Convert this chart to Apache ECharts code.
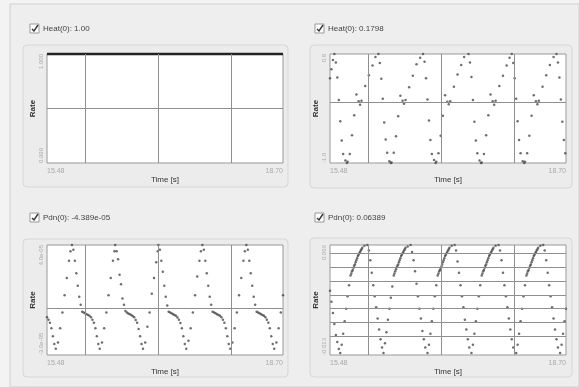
<!DOCTYPE html>
<html>
<head>
<meta charset="utf-8">
<script src="https://cdn.jsdelivr.net/npm/echarts@6/dist/echarts.min.js"></script>
<style>
html, body { margin: 0; padding: 0; background: #f3f3f3; }
#chart { width: 579px; height: 387px; }
</style>
</head>
<body>
<div id="chart"></div>
<script>
// time axis shared by all four plots
const xMin = 15.48;
const xMax = 18.70;
const xTickLabels = ['15.48', '18.70'];
const timeGridLines = [16, 17, 18];

const titles = ['Heat(0): 1.00', 'Heat(0): 0.1798', 'Pdn(0): -4.389e-05', 'Pdn(0): 0.06389'];
const yMins = [0.999, -1.0, -3.0, -0.0134];
const yMaxs = [1.0, 0.8, 4.0, 0.066];
const yTickLabels = [
	['0.999', '1.000'],
	['-1.0', '0.8'],
	['-3.0e-05', '4.0e-05'],
	['-0.013', '0.066'],
];
const valueGridLines = [
	[0.9995],
	[0],
	[0],
	[0, 0.01, 0.02, 0.03, 0.04, 0.05, 0.06],
];

// plot 1: flat at the top
const heatA = [[15.48, 1.0], [16.2, 1.0], [17.1, 1.0], [18.70, 1.0]];

// plot 2
const heatB = [
	[15.48, 0.40], [15.50, 0.55], [15.52, 0.70],
	[15.54, 0.80], [15.56, 0.66], [15.58, 0.41], [15.60, 0.04], [15.62, -0.31], [15.64, -0.63], [15.66, -0.85], [15.69, -0.96], [15.71, -1.00], [15.72, -0.98], [15.75, -0.85], [15.78, -0.54], [15.81, -0.21], [15.84, 0.13], [15.87, 0.02], [15.89, -0.04], [15.91, 0.03], [15.96, 0.27], [16.01, 0.45], [16.06, 0.61], [16.10, 0.75],
	[16.14, 0.80], [16.16, 0.65], [16.18, 0.39], [16.20, 0.06], [16.22, -0.33], [16.24, -0.61], [16.26, -0.83], [16.29, -0.97], [16.31, -1.00], [16.32, -0.99], [16.35, -0.83], [16.38, -0.56], [16.41, -0.23], [16.44, 0.11], [16.47, 0.03], [16.49, -0.02], [16.51, 0.04], [16.56, 0.25], [16.61, 0.44], [16.66, 0.63], [16.71, 0.74],
	[16.75, 0.80], [16.77, 0.67], [16.79, 0.40], [16.81, 0.05], [16.83, -0.30], [16.85, -0.62], [16.87, -0.85], [16.90, -0.95], [16.92, -1.00], [16.93, -0.98], [16.96, -0.84], [16.99, -0.55], [17.02, -0.22], [17.05, 0.12], [17.08, 0.01], [17.10, -0.03], [17.12, 0.02], [17.17, 0.26], [17.22, 0.46], [17.27, 0.62], [17.31, 0.75],
	[17.37, 0.80], [17.39, 0.66], [17.41, 0.42], [17.43, 0.04], [17.45, -0.32], [17.47, -0.63], [17.49, -0.84], [17.52, -0.96], [17.54, -1.00], [17.55, -0.99], [17.58, -0.85], [17.61, -0.54], [17.64, -0.21], [17.67, 0.13], [17.70, 0.02], [17.72, -0.04], [17.74, 0.03], [17.79, 0.27], [17.84, 0.44], [17.89, 0.61], [17.93, 0.74],
	[17.96, 0.80], [17.98, 0.65], [18.00, 0.40], [18.02, 0.06], [18.04, -0.31], [18.06, -0.62], [18.08, -0.84], [18.11, -0.97], [18.13, -1.00], [18.14, -0.98], [18.17, -0.84], [18.20, -0.55], [18.23, -0.22], [18.26, 0.12], [18.29, 0.02], [18.31, -0.03], [18.33, 0.03], [18.38, 0.26], [18.43, 0.45], [18.48, 0.62], [18.53, 0.75],
	[18.57, 0.80], [18.59, 0.66], [18.61, 0.41], [18.63, 0.05], [18.65, -0.32], [18.67, -0.62], [18.69, -0.84],
];

// plot 3 (values in 1e-5)
const pdnA = [
	[15.48, -0.6], [15.50, -0.75], [15.52, -0.95], [15.54, -1.3], [15.56, -1.8], [15.58, -2.3], [15.60, -2.6], [15.63, -2.2], [15.66, -1.3], [15.69, -0.3], [15.72, 0.8], [15.75, 1.9], [15.78, 3.0], [15.80, 3.6],
	[15.82, 4.0], [15.84, 3.7], [15.86, 3.0], [15.88, 2.2], [15.90, 1.4], [15.92, 0.7], [15.94, 0.2], [15.96, -0.25], [15.98, -0.3], [16.00, -0.35], [16.02, -0.4], [16.04, -0.45], [16.06, -0.5], [16.08, -0.6], [16.10, -0.75], [16.12, -0.95], [16.14, -1.3], [16.16, -1.8], [16.18, -2.3], [16.20, -2.6], [16.23, -2.2], [16.26, -1.3], [16.29, -0.3], [16.32, 0.8], [16.35, 1.9], [16.38, 3.0], [16.40, 3.6],
	[16.41, 4.0], [16.43, 3.6], [16.45, 3.1], [16.47, 2.1], [16.49, 1.5], [16.51, 0.6], [16.53, 0.2], [16.55, -0.2], [16.57, -0.3], [16.59, -0.36], [16.61, -0.4], [16.63, -0.46], [16.65, -0.52], [16.67, -0.6], [16.69, -0.78], [16.71, -0.95], [16.73, -1.35], [16.75, -1.8], [16.77, -2.3], [16.79, -2.6], [16.82, -2.2], [16.85, -1.2], [16.88, -0.3], [16.91, 0.9], [16.94, 1.9], [16.97, 2.9], [16.99, 3.6],
	[17.00, 4.0], [17.02, 3.7], [17.04, 3.0], [17.06, 2.3], [17.08, 1.4], [17.10, 0.7], [17.12, 0.15], [17.14, -0.25], [17.16, -0.3], [17.18, -0.34], [17.20, -0.4], [17.22, -0.45], [17.24, -0.5], [17.26, -0.62], [17.28, -0.75], [17.30, -0.97], [17.32, -1.3], [17.34, -1.8], [17.36, -2.3], [17.38, -2.6], [17.41, -2.1], [17.44, -1.3], [17.47, -0.3], [17.50, 0.8], [17.53, 2.0], [17.56, 3.0], [17.58, 3.6],
	[17.60, 4.0], [17.62, 3.7], [17.64, 3.0], [17.66, 2.2], [17.68, 1.4], [17.70, 0.7], [17.72, 0.2], [17.74, -0.25], [17.76, -0.3], [17.78, -0.35], [17.80, -0.4], [17.82, -0.45], [17.84, -0.5], [17.86, -0.6], [17.88, -0.75], [17.90, -0.95], [17.92, -1.3], [17.94, -1.8], [17.96, -2.3], [17.98, -2.6], [18.01, -2.2], [18.04, -1.3], [18.07, -0.3], [18.10, 0.8], [18.13, 1.9], [18.16, 3.0], [18.18, 3.6],
	[18.20, 4.0], [18.22, 3.7], [18.24, 3.0], [18.26, 2.2], [18.28, 1.4], [18.30, 0.7], [18.32, 0.2], [18.34, -0.25], [18.36, -0.3], [18.38, -0.35], [18.40, -0.4], [18.42, -0.45], [18.44, -0.5], [18.46, -0.6], [18.48, -0.75], [18.50, -0.95], [18.52, -1.3], [18.54, -1.8], [18.56, -2.3], [18.58, -2.6], [18.61, -2.2], [18.64, -1.3], [18.67, -0.3], [18.70, 0.8],
];

// plot 4
const pdnB = [
	[15.48, 0.033], [15.50, 0.025], [15.52, 0.017], [15.54, 0.009], [15.56, 0.001], [15.58, -0.004], [15.60, -0.009],
	[15.62, -0.012], [15.64, -0.006], [15.66, 0.002], [15.68, 0.011], [15.70, 0.020], [15.72, 0.029], [15.74, 0.037], [15.76, 0.044], [15.77, 0.0455], [15.78, 0.047], [15.79, 0.048], [15.80, 0.0495], [15.81, 0.051], [15.82, 0.052], [15.83, 0.0535], [15.84, 0.055], [15.85, 0.0565], [15.86, 0.058], [15.87, 0.059], [15.88, 0.060], [15.89, 0.061], [15.90, 0.062], [15.91, 0.063], [15.92, 0.064], [15.95, 0.0655], [15.99, 0.066], [16.01, 0.062], [16.03, 0.055], [16.05, 0.046], [16.07, 0.037], [16.09, 0.029], [16.11, 0.021], [16.13, 0.013], [16.15, 0.005], [16.17, -0.002], [16.19, -0.008],
	[16.21, -0.012], [16.23, -0.005], [16.25, 0.003], [16.27, 0.012], [16.29, 0.020], [16.31, 0.028], [16.33, 0.036], [16.35, 0.044], [16.36, 0.0455], [16.37, 0.047], [16.38, 0.0485], [16.39, 0.050], [16.40, 0.051], [16.41, 0.052], [16.42, 0.0535], [16.43, 0.055], [16.44, 0.0565], [16.45, 0.058], [16.46, 0.059], [16.47, 0.060], [16.48, 0.061], [16.49, 0.062], [16.50, 0.063], [16.51, 0.064], [16.54, 0.065], [16.58, 0.066], [16.60, 0.061], [16.62, 0.055], [16.64, 0.047], [16.66, 0.038], [16.68, 0.029], [16.70, 0.020], [16.72, 0.013], [16.74, 0.004], [16.76, -0.002], [16.78, -0.008],
	[16.81, -0.012], [16.83, -0.006], [16.85, 0.002], [16.87, 0.011], [16.89, 0.020], [16.91, 0.029], [16.93, 0.037], [16.95, 0.044], [16.96, 0.0455], [16.97, 0.047], [16.98, 0.048], [16.99, 0.049], [17.00, 0.0505], [17.01, 0.052], [17.02, 0.0535], [17.03, 0.055], [17.04, 0.0565], [17.05, 0.058], [17.06, 0.059], [17.07, 0.060], [17.08, 0.061], [17.09, 0.062], [17.10, 0.063], [17.11, 0.064], [17.14, 0.0655], [17.18, 0.066], [17.20, 0.062], [17.22, 0.054], [17.24, 0.046], [17.26, 0.037], [17.28, 0.029], [17.30, 0.021], [17.32, 0.012], [17.34, 0.005], [17.36, -0.002], [17.38, -0.008],
	[17.41, -0.012], [17.43, -0.006], [17.45, 0.002], [17.47, 0.011], [17.49, 0.020], [17.51, 0.029], [17.53, 0.037], [17.55, 0.044], [17.56, 0.0455], [17.57, 0.047], [17.58, 0.048], [17.59, 0.0495], [17.60, 0.051], [17.61, 0.052], [17.62, 0.0535], [17.63, 0.055], [17.64, 0.0565], [17.65, 0.058], [17.66, 0.059], [17.67, 0.060], [17.68, 0.061], [17.69, 0.062], [17.70, 0.063], [17.71, 0.064], [17.74, 0.0655], [17.78, 0.066], [17.80, 0.062], [17.82, 0.055], [17.84, 0.046], [17.86, 0.037], [17.88, 0.029], [17.90, 0.021], [17.92, 0.013], [17.94, 0.005], [17.96, -0.002], [17.98, -0.008],
	[18.02, -0.012], [18.04, -0.006], [18.06, 0.002], [18.08, 0.011], [18.10, 0.020], [18.12, 0.029], [18.14, 0.037], [18.16, 0.044], [18.17, 0.0455], [18.18, 0.047], [18.19, 0.048], [18.20, 0.0495], [18.21, 0.051], [18.22, 0.052], [18.23, 0.0535], [18.24, 0.055], [18.25, 0.0565], [18.26, 0.058], [18.27, 0.059], [18.28, 0.060], [18.29, 0.061], [18.30, 0.062], [18.31, 0.063], [18.32, 0.064], [18.35, 0.0655], [18.39, 0.066], [18.41, 0.062], [18.43, 0.055], [18.45, 0.046], [18.47, 0.037], [18.49, 0.029], [18.51, 0.021], [18.53, 0.013], [18.55, 0.005], [18.57, -0.002], [18.59, -0.008],
	[18.62, -0.012], [18.64, -0.006], [18.66, 0.002], [18.68, 0.011], [18.70, 0.020],
];

const chart = echarts.init(document.getElementById('chart'), null, {renderer: 'canvas'});

const grids = [
	{left: 47, top: 54, width: 236, height: 109},
	{left: 330, top: 54, width: 236, height: 109},
	{left: 47, top: 245, width: 236, height: 110},
	{left: 330, top: 245, width: 236, height: 110},
];
const frames = [
	{x: 23, y: 45, width: 265, height: 142},
	{x: 310, y: 45, width: 262, height: 143},
	{x: 23, y: 239, width: 265, height: 138},
	{x: 310, y: 238, width: 262, height: 139},
];
const titlePos = [[30, 24], [315, 24], [30, 213], [315, 213]];

const font = 'Liberation Sans, DejaVu Sans, sans-serif';

function checkbox([x, y], text) {
	return [
		{type: 'rect', shape: {x, y, width: 9, height: 9}, style: {fill: '#fff', stroke: '#999', lineWidth: 1}, z: 5},
		{type: 'polyline', shape: {points: [[x + 2, y + 5], [x + 4, y + 7], [x + 8, y + 1]]}, style: {fill: null, stroke: '#333', lineWidth: 1.4}, z: 6},
		{type: 'text', x: x + 13, y: y + 5, style: {text, fontSize: 8, fontFamily: font, fill: '#444', verticalAlign: 'middle'}, z: 6},
	];
}

const graphic = [
	{type: 'rect', shape: {x: 10, y: 4, width: 569, height: 383}, style: {fill: '#eeeeee', stroke: '#cfcfcf', lineWidth: 1}, z: -10},
	...frames.map(f => ({type: 'rect', shape: {...f, r: 4}, style: {fill: '#ececec', stroke: '#d6d6d6', lineWidth: 1}, z: -5})),
	...titles.flatMap((t, i) => checkbox(titlePos[i], t)),
];

const seriesData = [heatA, heatB, pdnA, pdnB];

// empty scatter per plot that only carries the grid lines
const gridLineSeries = grids.map((g, i) => ({
	type: 'scatter',
	xAxisIndex: i,
	yAxisIndex: i,
	data: [],
	silent: true,
	markLine: {
		silent: true,
		symbol: 'none',
		precision: 6,
		label: {show: false},
		lineStyle: {color: '#8f8f8f', type: 'solid', width: 1},
		data: [
			...timeGridLines.map(t => ({xAxis: t})),
			...valueGridLines[i].map(v => ({yAxis: v})),
		],
	},
}));

const option = {
	animation: false,
	backgroundColor: '#f3f3f3',
	graphic,
	grid: grids.map(g => ({...g, show: true, backgroundColor: '#fff', borderColor: '#999', borderWidth: 1})),
	xAxis: grids.map((g, i) => ({
		gridIndex: i,
		type: 'value',
		min: xMin,
		max: xMax,
		name: 'Time [s]',
		nameLocation: 'middle',
		nameGap: 10,
		nameTextStyle: {fontSize: 8, color: '#333', fontFamily: font},
		axisLine: {show: false},
		axisTick: {show: false},
		splitLine: {show: false},
		axisLabel: {
			fontSize: 7,
			color: '#aaa',
			fontFamily: font,
			margin: 5,
			alignMinLabel: 'left',
			alignMaxLabel: 'right',
			formatter: v => (v === xMin ? xTickLabels[0] : v === xMax ? xTickLabels[1] : ''),
		},
	})),
	yAxis: grids.map((g, i) => ({
		gridIndex: i,
		type: 'value',
		min: yMins[i],
		max: yMaxs[i],
		name: 'Rate',
		nameLocation: 'middle',
		nameGap: 5,
		nameTextStyle: {fontSize: 8, color: '#333', fontWeight: 'bold', fontFamily: font},
		axisLine: {show: false},
		axisTick: {show: false},
		splitLine: {show: false},
		axisLabel: {
			rotate: 90,
			fontSize: 6,
			color: '#aaa',
			fontFamily: font,
			margin: 3,
			alignMinLabel: 'left',
			alignMaxLabel: 'right',
			formatter: v => (v === yMins[i] ? yTickLabels[i][0] : v === yMaxs[i] ? yTickLabels[i][1] : ''),
		},
	})),
	series: [
		...gridLineSeries,
		...seriesData.map((data, i) => (i === 0
			? {
				type: 'line',
				xAxisIndex: i,
				yAxisIndex: i,
				data,
				showSymbol: false,
				clip: false,
				lineStyle: {color: '#222', width: 2.5},
			}
			: {
				type: 'scatter',
				xAxisIndex: i,
				yAxisIndex: i,
				data,
				symbolSize: 2.5,
				itemStyle: {color: '#4a4a4a'},
			})),
	],
};

chart.setOption(option);
</script>
</body>
</html>
